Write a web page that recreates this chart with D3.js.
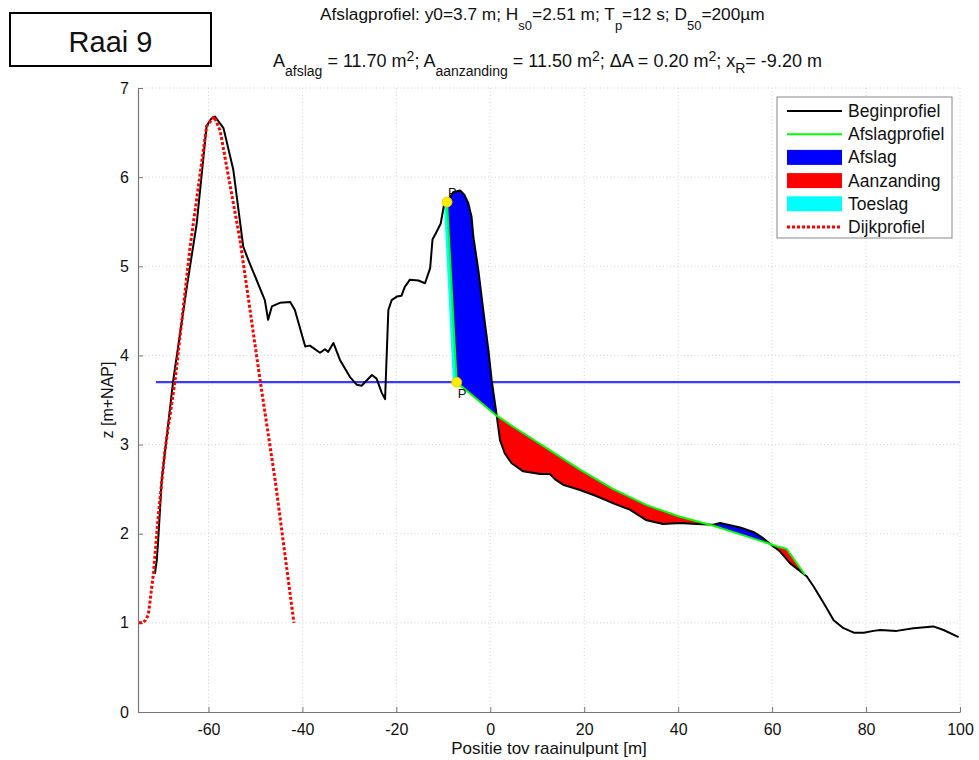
<!DOCTYPE html>
<html><head><meta charset="utf-8">
<script src="https://cdn.jsdelivr.net/npm/d3@7"></script>
<style>
body{margin:0;background:#fff}
text{font-family:"Liberation Sans",Arial,Helvetica,sans-serif;fill:#111}
</style>
</head><body>
<svg id="c" width="979" height="760"></svg>
<script>
// ---------- data ----------
const beginX = [-71.4,-71.0,-70.7,-69.95,-67.5,-64.6,-62.5,-60.4,-59.5,-58.6,-56.8,-54.7,-52.6,-51.5,-48.0,-47.3,-46.5,-44.8,-42.6,-41.6,-39.4,-38.4,-36.25,-35.2,-34.5,-33.4,-32.0,-29.9,-28.4,-27.4,-25.2,-24.2,-23.1,-22.4,-21.7,-21.0,-19.9,-18.9,-18.2,-17.1,-15.3,-13.9,-12.8,-12.3,-11.4,-10.55,-9.85,-9.2,-7.9,-6.4,-5.5,-4.7,-4.0,-3.6,-2.55,-1.5,-0.4,0.3,1.2,2.07,3.1,4.55,7.0,10.6,12.7,13.8,15.5,19.1,22.7,26.2,29.7,33.3,36.8,40.4,43.9,47.5,48.9,53.2,56.0,58.1,59.9,61.7,63.8,67.4,68.8,71.0,73.1,75.2,77.4,79.5,81.6,83.0,86.5,90.1,94.3,96.5,99.7];
const beginZ = [1.55,1.70,1.93,2.60,3.72,4.77,5.48,6.57,6.65,6.68,6.55,6.08,5.22,5.07,4.62,4.40,4.55,4.59,4.60,4.51,4.10,4.11,4.03,4.07,4.04,4.14,3.95,3.76,3.67,3.66,3.78,3.74,3.58,3.51,4.51,4.62,4.66,4.67,4.77,4.85,4.84,4.81,4.98,5.30,5.39,5.48,5.69,5.72,5.83,5.85,5.80,5.71,5.56,5.33,4.96,4.51,4.06,3.72,3.39,3.05,2.90,2.79,2.70,2.67,2.67,2.61,2.55,2.49,2.42,2.34,2.27,2.15,2.11,2.12,2.11,2.10,2.12,2.07,2.02,1.95,1.87,1.80,1.67,1.52,1.41,1.22,1.03,0.94,0.89,0.89,0.91,0.92,0.91,0.94,0.96,0.92,0.84];
const afslagX = [-9.2,-7.15,1.2,4.9,12.0,19.1,26.2,33.3,40.4,47.5,54.6,61.0,63.1,67.0];
const afslagZ = [5.72,3.70,3.33,3.20,2.96,2.72,2.50,2.32,2.19,2.09,1.97,1.86,1.83,1.54];
const dijkX = [-74.8,-74.0,-73.4,-72.8,-71.7,-70.7,-69.25,-67.1,-63.9,-60.4,-58.8,-57.5,-53.3,-49.0,-45.8,-41.8];
const dijkZ = [1.00,1.00,1.03,1.09,1.56,2.19,2.94,3.72,5.22,6.57,6.68,6.52,5.30,3.72,2.60,1.00];
const toeslagX = [-9.2,-7.15,-7.95,-9.9];
const toeslagZ = [5.72,3.70,3.70,5.72];
const waterLevel = 3.7;
const waterX = [-71.2, 100];
const pointX = [-9.2, -7.15];
const pointZ = [5.72, 3.70];
const xTicks = [-60,-40,-20,0,20,40,60,80,100];
const yTicks = [0,1,2,3,4,5,6,7];
const legendLabels = ["Beginprofiel","Afslagprofiel","Afslag","Aanzanding","Toeslag","Dijkprofiel"];

// ---------- setup ----------
const svg = d3.select("#c");
const L = 138, R = 960, T = 88, B = 712;
const x = d3.scaleLinear().domain([-75,100]).range([L,R]);
const y = d3.scaleLinear().domain([0,7]).range([B,T]);

// grid
const grid = svg.append("g");
grid.selectAll(".gx").data(xTicks).enter().append("line")
  .attr("x1",d=>x(d)).attr("x2",d=>x(d)).attr("y1",T).attr("y2",B)
  .attr("stroke","#d2d2d2").attr("stroke-dasharray","1,2.5").attr("stroke-width",1);
grid.selectAll(".gy").data(yTicks.filter(d=>d>0)).enter().append("line")
  .attr("x1",L).attr("x2",R).attr("y1",d=>y(d)).attr("y2",d=>y(d))
  .attr("stroke","#d2d2d2").attr("stroke-dasharray","1,2.5").attr("stroke-width",1);

// axes
const xAxis = d3.axisBottom(x).tickValues(xTicks).tickSizeInner(-5).tickSizeOuter(0).tickPadding(12).tickFormat(d3.format("d"));
const yAxis = d3.axisLeft(y).tickValues(yTicks).tickSizeInner(-5).tickSizeOuter(0).tickPadding(9).tickFormat(d3.format("d"));
const gx = svg.append("g").attr("transform",`translate(0,${B})`).call(xAxis);
const gy = svg.append("g").attr("transform",`translate(${L},0)`).call(yAxis);
[gx,gy].forEach(g=>{
  g.select(".domain").attr("stroke","#777").attr("stroke-width",1.2);
  g.selectAll(".tick line").attr("stroke","#777");
  g.selectAll(".tick text").attr("font-size",16).attr("fill","#222")
   .style("font-family",'"Liberation Sans",Arial,sans-serif');
});
gx.selectAll(".tick text").text(d=>d<0?"-"+Math.abs(d):d);

svg.append("text").attr("x",(L+R)/2).attr("y",754).attr("text-anchor","middle")
  .attr("font-size",17).text("Positie tov raainulpunt [m]");
svg.append("text").attr("transform",`translate(113,${(T+B)/2}) rotate(-90)`)
  .attr("text-anchor","middle").attr("font-size",16).text("z [m+NAP]");

// water level
svg.append("line").attr("x1",x(waterX[0])).attr("x2",x(waterX[1]))
  .attr("y1",y(waterLevel)).attr("y2",y(waterLevel))
  .attr("stroke","#3b3bff").attr("stroke-width",2.2);

// ---------- fills between profiles ----------
const beginPts = beginX.map((v,i)=>[v,beginZ[i]]);
const afslagPts = afslagX.map((v,i)=>[v,afslagZ[i]]);
function interp(pts, xv){
  for(let i=0;i<pts.length-1;i++){
    const a=pts[i], b=pts[i+1];
    if(xv>=a[0] && xv<=b[0]){ const t=(b[0]===a[0])?0:(xv-a[0])/(b[0]-a[0]); return a[1]+t*(b[1]-a[1]); }
  }
  return null;
}
const x0 = afslagX[0], x1 = afslagX[afslagX.length-1];
let xs = Array.from(new Set(beginX.concat(afslagX).filter(v=>v>=x0&&v<=x1))).sort((a,b)=>a-b);
const samples = xs.map(v=>({x:v,b:interp(beginPts,v),g:interp(afslagPts,v)}));
const segs=[]; let cur=[samples[0]]; let sign=0;
for(let i=1;i<samples.length;i++){
  const p=samples[i-1], q=samples[i];
  const dp=p.b-p.g, dq=q.b-q.g;
  const sq = Math.abs(dq)<1e-9?0:Math.sign(dq);
  if(sign===0 && sq!==0) sign=sq;
  if(sq!==0 && sign!==0 && sq!==sign){
    const t = dp/(dp-dq);
    const cx = p.x+t*(q.x-p.x);
    const cz = p.g+t*(q.g-p.g);
    const c={x:cx,b:cz,g:cz};
    cur.push(c); segs.push({pts:cur,sign:sign});
    cur=[c]; sign=sq;
  }
  cur.push(q);
}
segs.push({pts:cur,sign:sign});
const area = d3.area().x(d=>x(d.x)).y0(d=>y(d.g)).y1(d=>y(d.b));
svg.append("g").selectAll("path").data(segs).enter().append("path")
  .attr("d",d=>area(d.pts)).attr("fill",d=>d.sign>0?"#0000ff":"#ff0000");

// toeslag
svg.append("path").attr("d",d3.line()(toeslagX.map((v,i)=>[x(v),y(toeslagZ[i])]))+"Z")
  .attr("fill","#00ffff");

// profiles
const line = d3.line().x(d=>x(d[0])).y(d=>y(d[1]));
svg.append("path").attr("d",line(beginPts)).attr("fill","none")
  .attr("stroke","#000").attr("stroke-width",2).attr("stroke-linejoin","round");
svg.append("path").attr("d",line(afslagPts)).attr("fill","none")
  .attr("stroke","#00ff00").attr("stroke-width",2);
svg.append("path").attr("d",line(dijkX.map((v,i)=>[v,dijkZ[i]]))).attr("fill","none")
  .attr("stroke","#ff0000").attr("stroke-width",3).attr("stroke-dasharray","3,2");

// points
svg.selectAll(".pt").data(pointX).enter().append("circle")
  .attr("cx",d=>x(d)).attr("cy",(d,i)=>y(pointZ[i])).attr("r",5)
  .attr("fill","#ffee00").attr("stroke","#e0c800").attr("stroke-width",0.8);
svg.append("text").attr("x",x(pointX[0])+1).attr("y",y(pointZ[0])-5).attr("font-size",13).attr("fill","#555").text("P");
svg.append("text").attr("x",x(pointX[1])+1).attr("y",y(pointZ[1])+16).attr("font-size",13).attr("fill","#555").text("P");

// ---------- legend ----------
const lg = svg.append("g");
lg.append("rect").attr("x",777).attr("y",97).attr("width",175).attr("height",141)
  .attr("fill","#fff").attr("stroke","#888").attr("stroke-width",1);
const rowY = d3.range(legendLabels.length).map(i=>111+i*23.2);
legendLabels.forEach((lab,i)=>{
  const yy=rowY[i];
  if(i===0) lg.append("line").attr("x1",787).attr("x2",842).attr("y1",yy).attr("y2",yy).attr("stroke","#000").attr("stroke-width",2);
  if(i===1) lg.append("line").attr("x1",787).attr("x2",842).attr("y1",yy).attr("y2",yy).attr("stroke","#00ff00").attr("stroke-width",2);
  if(i>=2 && i<=4) lg.append("rect").attr("x",787).attr("y",yy-7.5).attr("width",55).attr("height",15)
    .attr("fill",["#0000ff","#ff0000","#00ffff"][i-2]);
  if(i===5) lg.append("line").attr("x1",787).attr("x2",842).attr("y1",yy).attr("y2",yy).attr("stroke","#ff0000").attr("stroke-width",3).attr("stroke-dasharray","3,2");
  lg.append("text").attr("x",848).attr("y",yy+6).attr("font-size",17.5).text(lab);
});

// ---------- titles ----------
svg.append("rect").attr("x",10).attr("y",13).attr("width",201).attr("height",53)
  .attr("fill","#fff").attr("stroke","#000").attr("stroke-width",2);
svg.append("text").attr("x",110.5).attr("y",52).attr("text-anchor","middle").attr("font-size",29).text("Raai 9");

function richText(xp, yp, parts, size, subSize){
  const t = svg.append("text").attr("x",xp).attr("y",yp).attr("font-size",size);
  parts.forEach(p=>{
    const s = t.append("tspan").text(p[0]);
    if(p[1]==="sub" || p[1]==="sup") s.attr("font-size",subSize).attr("dy",p[2]);
    else if(p[2]!==undefined) s.attr("dy",p[2]);
  });
  return t;
}
richText(320,20,[
  ["Afslagprofiel: y0=3.7 m; H"],["s0","sub",10],["=2.51 m; T","",-10],["p","sub",10],["=12 s; D","",-10],["50","sub",10],["=200µm","",-10]
],17.3,13);
richText(273,67,[
  ["A"],["afslag","sub",9],[" = 11.70 m","",-9],["2","sup",-6],["; A","",6],["aanzanding","sub",9],[" = 11.50 m","",-9],["2","sup",-6],["; ΔA = 0.20 m","",6],["2","sup",-6],["; x","",6],["R","sub",6],["= -9.20 m","",-6]
],18,14);
</script>
</body></html>
